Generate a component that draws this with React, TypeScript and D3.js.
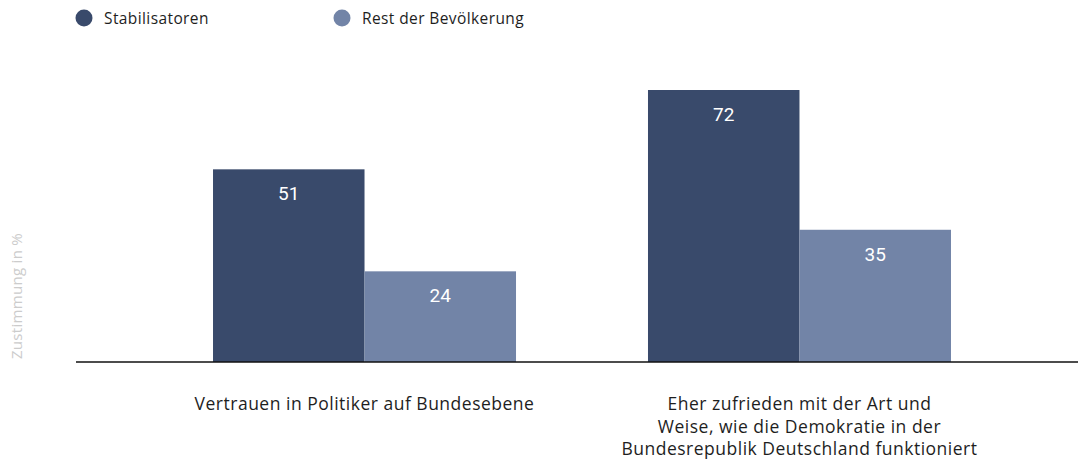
import React from "react";
import * as d3 from "d3";

const categories = [
  "Vertrauen in Politiker auf Bundesebene",
  "Eher zufrieden mit der Art und Weise, wie die Demokratie in der Bundesrepublik Deutschland funktioniert",
];
const categoryLines = [
  ["Vertrauen in Politiker auf Bundesebene"],
  ["Eher zufrieden mit der Art und", "Weise, wie die Demokratie in der", "Bundesrepublik Deutschland funktioniert"],
];
const seriesNames = ["Stabilisatoren", "Rest der Bevölkerung"];
const stabilisatoren = [51, 72];
const restBevoelkerung = [24, 35];
const seriesColors = ["#394a6b", "#7284a7"];
const yLabel = "Zustimmung in %";

const W = 1078;
const H = 459;
const baseY = 362;
const FONT = "'Open Sans', sans-serif";

export default function App() {
  const x0 = d3
    .scaleBand<string>()
    .domain(categories)
    .range([76, 1088])
    .paddingInner(0.3034)
    .paddingOuter(0.315);
  const x1 = d3
    .scaleBand<string>()
    .domain(seriesNames)
    .range([0, x0.bandwidth()]);
  const y = d3.scaleLinear().domain([0, 80]).range([baseY, baseY - 80 * (272 / 72)]);

  const series = [stabilisatoren, restBevoelkerung];

  return (
    <svg
      width={W}
      height={H}
      style={{ position: "absolute", left: 0, top: 0, background: "#fff" }}
    >
      {/* legend */}
      {seriesNames.map((n, i) => {
        const lx = i === 0 ? 84 : 342;
        return (
          <g key={n}>
            <circle cx={lx} cy={18} r={8.5} fill={seriesColors[i]} />
            <text
              x={lx + 20}
              y={24}
              fontFamily={FONT}
              fontSize={15.5}
              letterSpacing={0.4}
              fill="#1e1e1e"
            >
              {n}
            </text>
          </g>
        );
      })}

      {/* y-axis label */}
      <text
        transform={`translate(22,296) rotate(-90)`}
        textAnchor="middle"
        fontFamily={FONT}
        fontSize={15}
        letterSpacing={0.3}
        fill="#cccccc"
      >
        {yLabel}
      </text>

      {/* bars */}
      {categories.map((c, ci) => (
        <g key={c} transform={`translate(${x0(c)},0)`}>
          {seriesNames.map((s, si) => {
            const v = series[si][ci];
            const bx = x1(s)!;
            const bw = x1.bandwidth();
            return (
              <g key={s}>
                <rect
                  x={bx}
                  y={y(v)}
                  width={bw}
                  height={baseY - y(v)}
                  fill={seriesColors[si]}
                />
                <text
                  x={bx + bw / 2}
                  y={y(v) + 31}
                  textAnchor="middle"
                  fontFamily="Roboto, Arial, sans-serif"
                  fontSize={19}
                  fill="#fff"
                >
                  {v}
                </text>
              </g>
            );
          })}
        </g>
      ))}

      {/* baseline */}
      <line x1={76} x2={1078} y1={baseY} y2={baseY} stroke="#111" strokeWidth={1.5} />

      {/* category labels */}
      {categories.map((c, ci) => (
        <text
          key={c}
          x={x0(c)! + x0.bandwidth() / 2}
          y={410}
          textAnchor="middle"
          fontFamily={FONT}
          fontSize={17.5}
          letterSpacing={0.5}
          fill="#1e1e1e"
        >
          {categoryLines[ci].map((l, li) => (
            <tspan key={li} x={x0(c)! + x0.bandwidth() / 2} dy={li === 0 ? 0 : 22.5}>
              {l}
            </tspan>
          ))}
        </text>
      ))}
    </svg>
  );
}
